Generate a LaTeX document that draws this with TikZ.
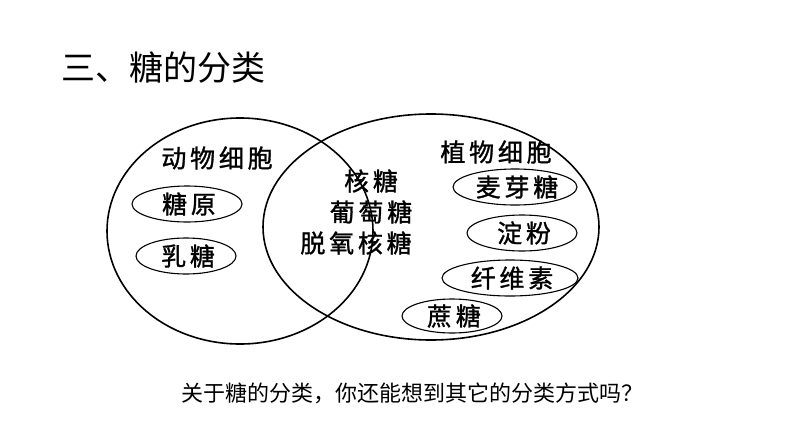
\documentclass[tikz,border=0pt]{standalone}
\usepackage{fontspec}
\newfontfamily\cjk{Noto Sans CJK SC}
\newfontfamily\cjkl[LetterSpace=15,FakeBold=1.2]{Noto Sans CJK SC}
\begin{document}
\begin{tikzpicture}[x=1pt,y=-1pt,
  big/.style={draw=black,line width=1.6pt},
  pill/.style={draw=black,line width=1.1pt},
  lab/.style={font=\cjkl\fontsize{25}{28}\selectfont,xshift=2pt}]
\useasboundingbox (0,0) rectangle (794,447);
\node[anchor=west,font=\cjk\fontsize{34}{40}\selectfont] (title) at (58,68) {三、糖的分类};
\draw[big] (240,231) ellipse [x radius=133,y radius=113];
\draw[big] (431,227) ellipse [x radius=168,y radius=113];
\node[lab] (animal) at (215,158) {动物细胞};
\node[lab] (plant) at (494,152) {植物细胞};
\node[lab] (m1) at (369,181) {核糖};
\node[lab] (m2) at (369,212) {葡萄糖};
\node[lab] (m3) at (354,243) {脱氧核糖};
\draw[pill] (187,204) ellipse [x radius=55,y radius=18];
\node[lab] (a1) at (187,204) {糖原};
\draw[pill] (186,256) ellipse [x radius=50,y radius=18];
\node[lab] (a2) at (186,256) {乳糖};
\draw[pill] (515,187) ellipse [x radius=62,y radius=18];
\node[lab] (p1) at (515,187) {麦芽糖};
\draw[pill] (522,233) ellipse [x radius=55,y radius=18];
\node[lab] (p2) at (522,233) {淀粉};
\draw[pill] (510,278) ellipse [x radius=68,y radius=18];
\node[lab] (p3) at (510,278) {纤维素};
\draw[pill] (452,316) ellipse [x radius=50,y radius=17];
\node[lab] (p4) at (452,316) {蔗糖};
\node[font=\cjk\fontsize{22}{26}\selectfont] (q) at (412,393) {关于糖的分类，你还能想到其它的分类方式吗？};
\end{tikzpicture}
\end{document}
